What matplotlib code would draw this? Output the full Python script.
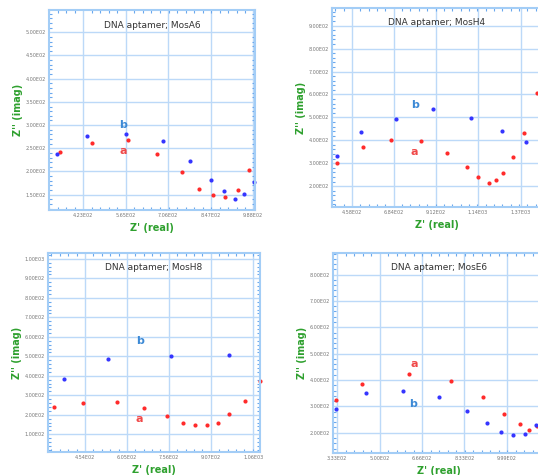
import matplotlib.pyplot as plt
from matplotlib.ticker import FixedLocator, FuncFormatter, AutoMinorLocator

# ---- data ----
titles = ["DNA aptamer; MosA6", "DNA aptamer; MosH4", "DNA aptamer; MosH8", "DNA aptamer; MosE6"]

a6_blue_x = [335, 435, 567, 689, 777, 848, 893, 930, 960, 993]
a6_blue_y = [237, 277, 281, 265, 222, 182, 157, 140, 151, 178]
a6_red_x = [347, 452, 573, 670, 751, 808, 854, 896, 937, 974]
a6_red_y = [241, 261, 268, 238, 198, 162, 149, 146, 161, 203]

h4_blue_x = [379, 509, 695, 894, 1101, 1271, 1398]
h4_blue_y = [333, 436, 494, 537, 497, 442, 391]
h4_red_x = [379, 516, 669, 830, 970, 1080, 1141, 1200, 1235, 1276, 1329, 1390, 1457]
h4_red_y = [299, 369, 403, 396, 343, 284, 241, 213, 225, 256, 326, 433, 605]

h8_blue_x = [379, 536, 763, 973]
h8_blue_y = [385, 484, 503, 505]
h8_red_x = [341, 448, 570, 667, 748, 806, 851, 893, 933, 973, 1031, 1085]
h8_red_y = [241, 259, 268, 237, 196, 160, 150, 145, 158, 203, 270, 371]

e6_blue_x = [330, 445, 592, 733, 841, 923, 978, 1024, 1072, 1113]
e6_blue_y = [290, 349, 359, 335, 282, 235, 204, 190, 195, 230]
e6_red_x = [328, 432, 615, 780, 904, 990, 1050, 1085, 1117]
e6_red_y = [325, 385, 423, 398, 337, 272, 233, 211, 224]

# label positions (a, b)
a6_ab = [(556, 245), (556, 300)]
h4_ab = [(796, 349), (802, 554)]
h8_ab = [(650, 179), (654, 580)]
e6_ab = [(636, 461), (633, 308)]

a6_xt = [423, 565, 706, 847, 988]
a6_yt = [150, 200, 250, 300, 350, 400, 450, 500]
h4_xt = [458, 684, 912, 1140, 1370]
h4_yt = [200, 300, 400, 500, 600, 700, 800, 900]
h8_xt = [454, 605, 756, 907, 1060]
h8_yt = [100, 200, 300, 400, 500, 600, 700, 800, 900, 1000]
e6_xt = [333, 500, 666, 833, 999]
e6_yt = [200, 300, 400, 500, 600, 700, 800]

W, H = 538, 475
fig = plt.figure(figsize=(W / 100, H / 100), dpi=100)


def fmt(v, pos):
    return f"{v:.2E}".replace("+", "")


def panel(rect_px, xlim, ylim, xt, yt, bx, by, rx, ry, ab, title):
    l, t, r, b = rect_px
    ax = fig.add_axes([l / W, 1 - b / H, (r - l) / W, (b - t) / H])
    ax.set_xlim(*xlim)
    ax.set_ylim(*ylim)
    ax.xaxis.set_major_locator(FixedLocator(xt))
    ax.yaxis.set_major_locator(FixedLocator(yt))
    ax.xaxis.set_major_formatter(FuncFormatter(fmt))
    ax.yaxis.set_major_formatter(FuncFormatter(fmt))
    ax.xaxis.set_minor_locator(AutoMinorLocator(5))
    ax.yaxis.set_minor_locator(AutoMinorLocator(5))
    ax.grid(True, which="major", color="#bcd9f8", lw=1)
    ax.set_axisbelow(True)
    for s in ax.spines.values():
        s.set_color("#a3cdf6")
        s.set_linewidth(1.5)
    ax.tick_params(which="both", direction="in", top=True, right=True,
                   color="#6aa8ee", labelsize=3.5, labelcolor="#777777", pad=2)
    ax.tick_params(which="major", length=0)
    ax.tick_params(which="minor", length=2, width=0.8)
    ax.plot(rx, ry, "o", color="#ff2b2b", ms=3, mec="none", clip_on=False)
    ax.plot(bx, by, "o", color="#3535ff", ms=3, mec="none", clip_on=False)
    ax.text(ab[0][0], ab[0][1], "a", color="#f04848", fontsize=8, fontweight="bold",
            ha="center", va="center")
    ax.text(ab[1][0], ab[1][1], "b", color="#3d8ad6", fontsize=8, fontweight="bold",
            ha="center", va="center")
    ax.text(0.5, 0.925, title, transform=ax.transAxes, ha="center", va="center",
            fontsize=6.5, color="#333333")
    ax.set_xlabel("Z' (real)", color="#2ea02e", fontsize=7, fontweight="bold", labelpad=4)
    ax.set_ylabel("Z'' (imag)", color="#2ea02e", fontsize=7, fontweight="bold", labelpad=2)
    return ax


panel((49, 10, 255, 210), (309, 995), (117, 548), a6_xt, a6_yt,
      a6_blue_x, a6_blue_y, a6_red_x, a6_red_y, a6_ab, titles[0])
panel((332, 8, 542, 207), (350, 1486), (109, 977), h4_xt, h4_yt,
      h4_blue_x, h4_blue_y, h4_red_x, h4_red_y, h4_ab, titles[1])
panel((48, 253, 260, 452), (321, 1084), (9, 1030), h8_xt, h8_yt,
      h8_blue_x, h8_blue_y, h8_red_x, h8_red_y, h8_ab, titles[2])
panel((333, 253, 545, 453), (317, 1149), (123, 882), e6_xt, e6_yt,
      e6_blue_x, e6_blue_y, e6_red_x, e6_red_y, e6_ab, titles[3])

fig.savefig("out.png", dpi=100)
